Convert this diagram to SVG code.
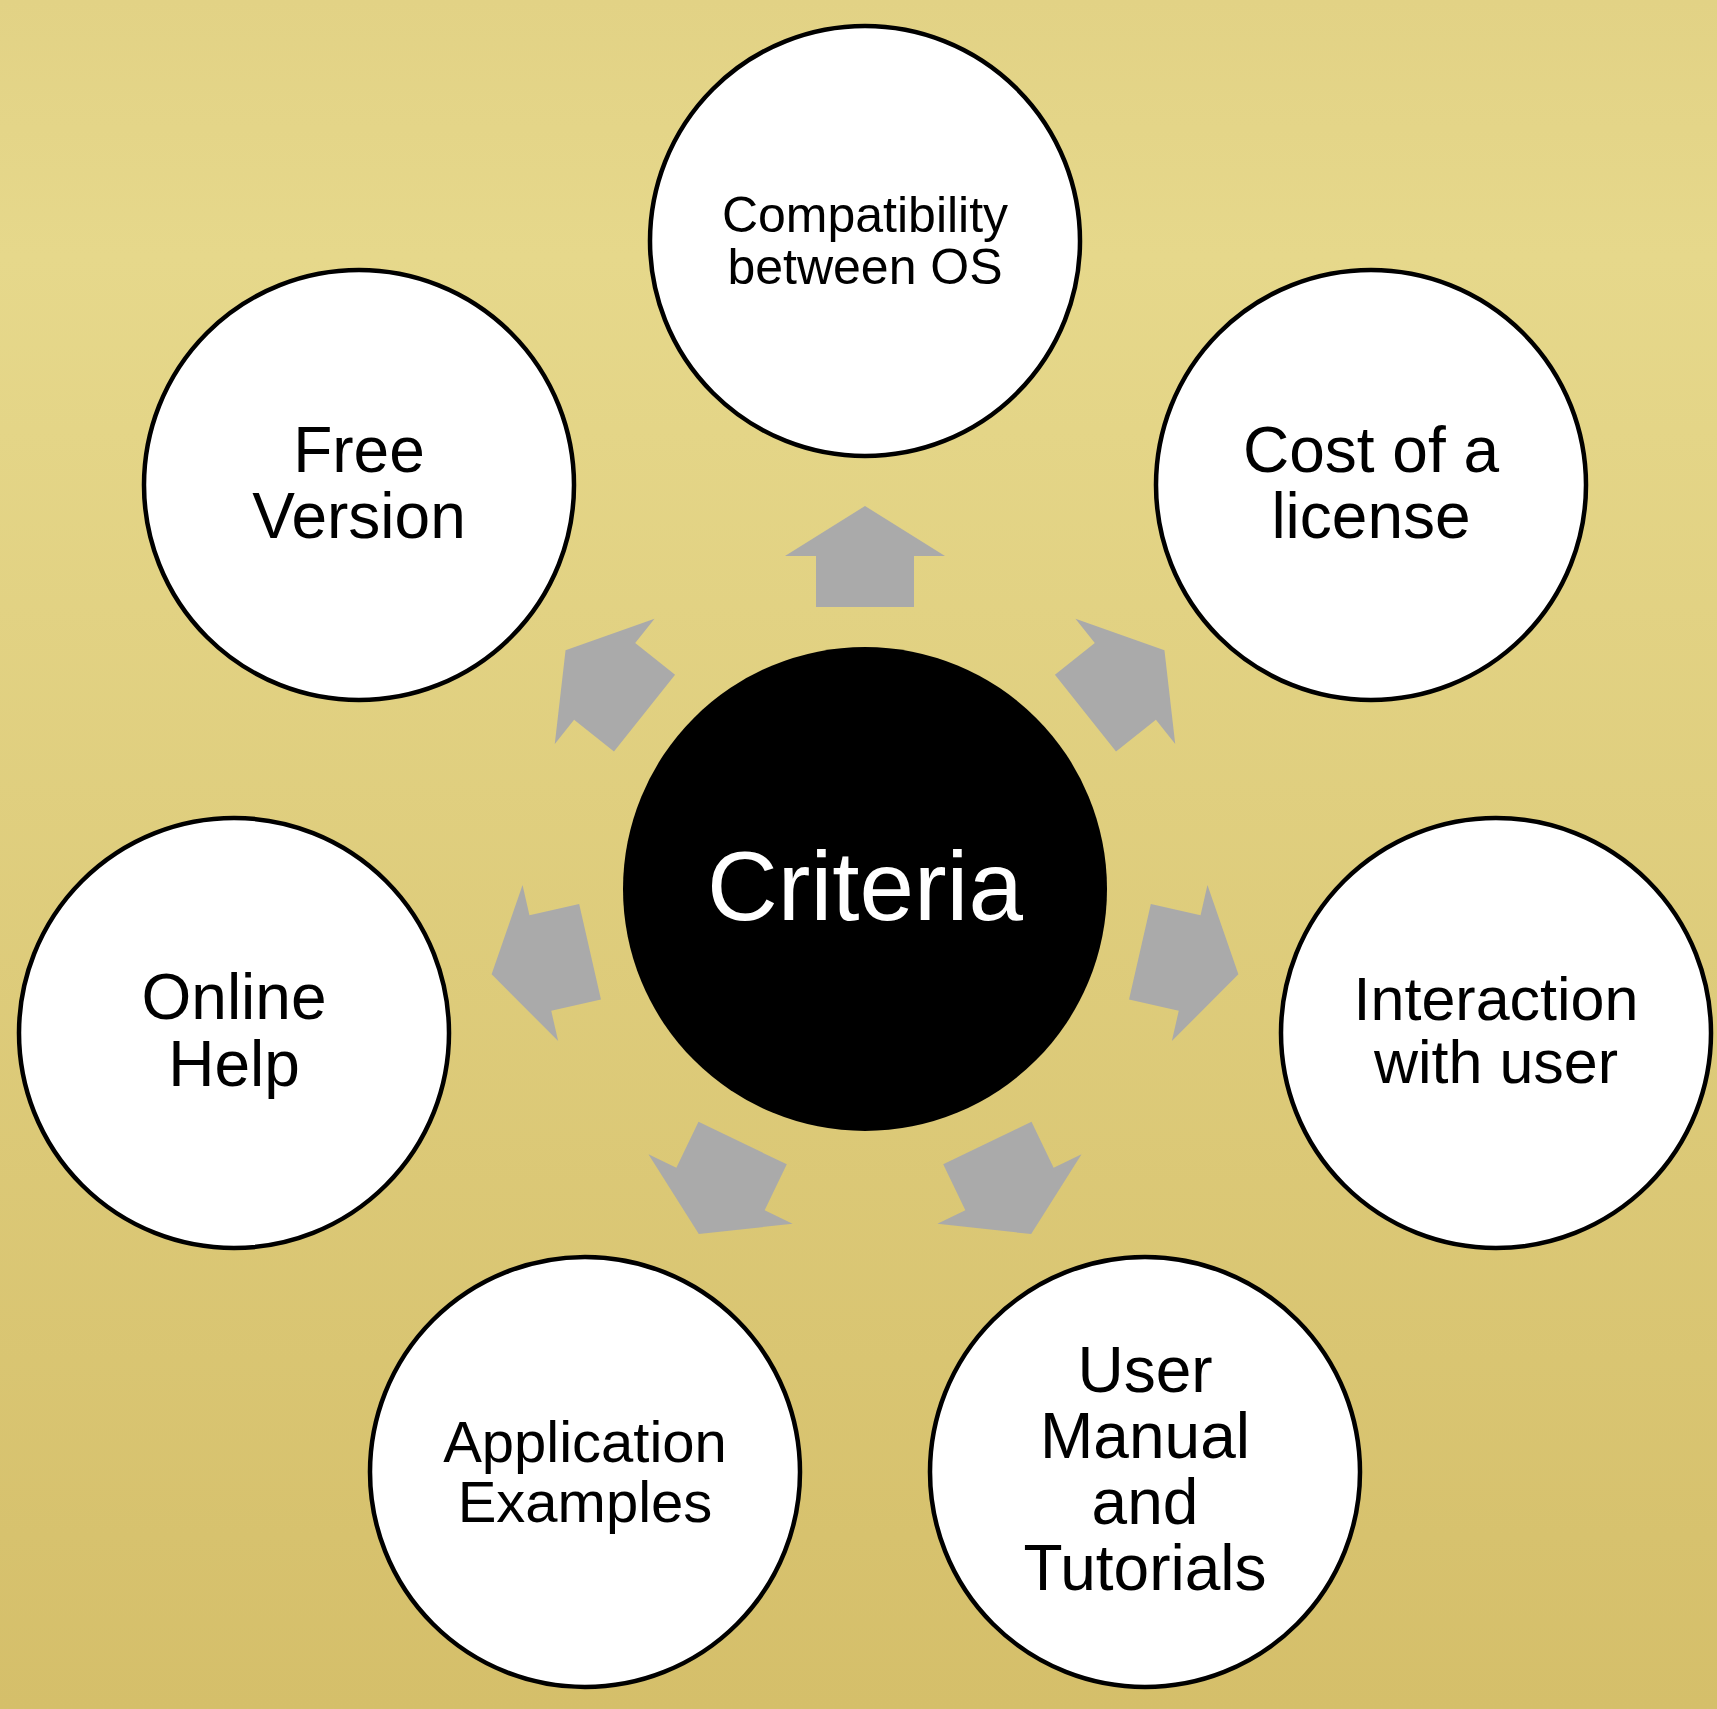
<svg xmlns="http://www.w3.org/2000/svg" width="1717" height="1709" viewBox="0 0 1717 1709">
<defs>
<linearGradient id="bg" x1="0" y1="0" x2="0" y2="1">
<stop offset="0" stop-color="#E2D285"/>
<stop offset="0.15" stop-color="#E6D88B"/>
<stop offset="1" stop-color="#D5BF6A"/>
</linearGradient>
<polygon id="arr" points="0,-383 80,-333 49,-333 49,-282 -49,-282 -49,-333 -80,-333"/>
</defs>
<style>
.sat{fill:#FFFFFF;stroke:#000000;stroke-width:4.5}
.lbl{font-family:"Liberation Sans",Arial,sans-serif;fill:#000000;text-anchor:middle}
.arrow{fill:#AAAAAA}
</style>
<rect x="0" y="0" width="1717" height="1709" fill="url(#bg)"/>
<g id="connectors" class="arrow">
<use href="#arr" transform="translate(865 889) rotate(0)"/>
<use href="#arr" transform="translate(865 889) rotate(51.4286)"/>
<use href="#arr" transform="translate(865 889) rotate(102.857)"/>
<use href="#arr" transform="translate(865 889) rotate(154.286)"/>
<use href="#arr" transform="translate(865 889) rotate(205.714)"/>
<use href="#arr" transform="translate(865 889) rotate(257.143)"/>
<use href="#arr" transform="translate(865 889) rotate(308.571)"/>
</g>
<g id="node-criteria">
<circle cx="865" cy="889" r="242" fill="#000000"/>
<text class="lbl" x="865" y="920" font-size="98" style="fill:#FFFFFF">Criteria</text>
</g>
<g id="node-compatibility">
<circle class="sat" cx="865" cy="241" r="215"/>
<text class="lbl" font-size="50"><tspan x="865" y="232">Compatibility</tspan><tspan x="865" y="284">between OS</tspan></text>
</g>
<g id="node-cost">
<circle class="sat" cx="1371" cy="485" r="215"/>
<text class="lbl" font-size="64"><tspan x="1371" y="472">Cost of a</tspan><tspan x="1371" y="538">license</tspan></text>
</g>
<g id="node-interaction">
<circle class="sat" cx="1496" cy="1033" r="215"/>
<text class="lbl" font-size="61"><tspan x="1496" y="1020">Interaction</tspan><tspan x="1496" y="1083">with user</tspan></text>
</g>
<g id="node-manual">
<circle class="sat" cx="1145" cy="1472" r="215"/>
<text class="lbl" font-size="64"><tspan x="1145" y="1392">User</tspan><tspan x="1145" y="1458">Manual</tspan><tspan x="1145" y="1524">and</tspan><tspan x="1145" y="1590">Tutorials</tspan></text>
</g>
<g id="node-application">
<circle class="sat" cx="585" cy="1472" r="215"/>
<text class="lbl" font-size="58"><tspan x="585" y="1462">Application</tspan><tspan x="585" y="1522">Examples</tspan></text>
</g>
<g id="node-online">
<circle class="sat" cx="234" cy="1033" r="215"/>
<text class="lbl" font-size="64"><tspan x="234" y="1019">Online</tspan><tspan x="234" y="1086">Help</tspan></text>
</g>
<g id="node-free">
<circle class="sat" cx="359" cy="485" r="215"/>
<text class="lbl" font-size="64"><tspan x="359" y="472">Free</tspan><tspan x="359" y="538">Version</tspan></text>
</g>
</svg>
